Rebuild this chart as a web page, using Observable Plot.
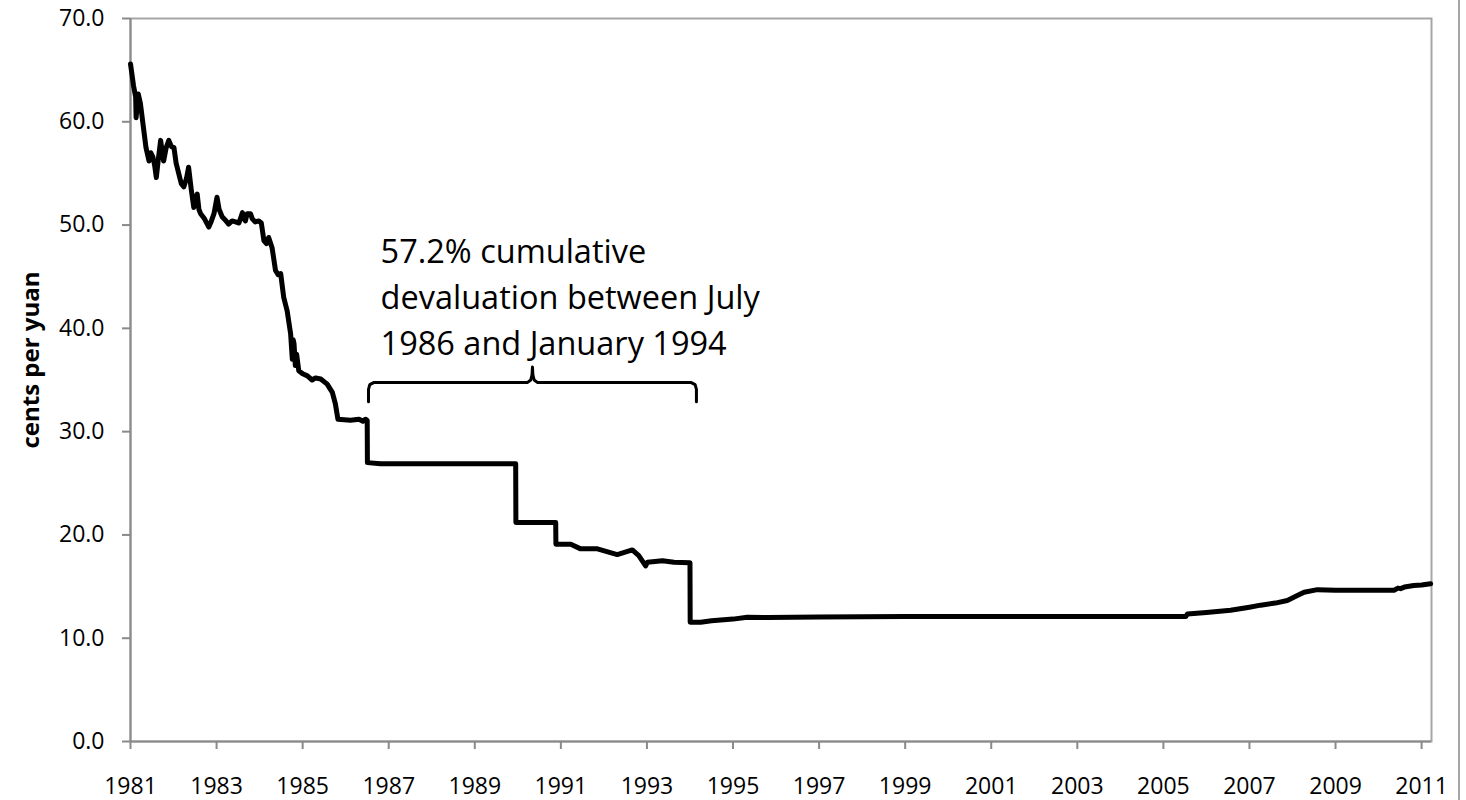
<!DOCTYPE html>
<html>
<head>
<meta charset="utf-8">
<script src="https://cdn.jsdelivr.net/npm/d3@7"></script>
<script src="https://cdn.jsdelivr.net/npm/@observablehq/plot@0.6"></script>
<style>
  html, body { margin: 0; padding: 0; background: #fff; }
  #wrap { display: inline-block; border-right: 2px solid #a6a6a6; line-height: 0; }
</style>
</head>
<body>
<div id="wrap"></div>
<script>
// Exchange rate, US cents per yuan
const years = [
  1981.00, 1981.07, 1981.12, 1981.13, 1981.18, 1981.23, 1981.29, 1981.36, 1981.43, 1981.47,
  1981.52, 1981.56, 1981.60, 1981.65, 1981.70, 1981.74, 1981.77, 1981.83, 1981.89, 1981.95,
  1982.01, 1982.06, 1982.12, 1982.18, 1982.24, 1982.30, 1982.35, 1982.41, 1982.47, 1982.51,
  1982.55, 1982.59, 1982.63, 1982.72, 1982.82, 1982.88, 1982.94, 1983.01, 1983.06, 1983.13,
  1983.20, 1983.28, 1983.36, 1983.44, 1983.52, 1983.60, 1983.64, 1983.67, 1983.71, 1983.79,
  1983.83, 1983.90, 1983.98, 1984.04, 1984.10, 1984.16, 1984.21, 1984.29, 1984.37, 1984.43,
  1984.49, 1984.56, 1984.64, 1984.72, 1984.76, 1984.78, 1984.80, 1984.83, 1984.86, 1984.91,
  1985.00, 1985.11, 1985.22, 1985.30, 1985.42, 1985.57, 1985.69, 1985.76, 1985.82, 1986.11,
  1986.31, 1986.40, 1986.46, 1986.50, 1986.505, 1986.81, 1989.95, 1989.955, 1990.88, 1990.885,
  1991.23, 1991.46, 1991.85, 1992.31, 1992.66, 1992.81, 1992.97, 1993.01, 1993.36, 1993.63,
  1994.00, 1994.005, 1994.25, 1994.50, 1995.00, 1995.33, 1995.80, 1997.00, 1998.00, 1999.00,
  2005.52, 2005.56, 2006.00, 2006.56, 2007.00, 2007.26, 2007.60, 2007.88, 2008.10, 2008.27,
  2008.58, 2009.00, 2010.36, 2010.45, 2010.51, 2010.60, 2010.82, 2011.00, 2011.21
];
const cents = [
  65.6, 63.5, 62.4, 60.4, 62.7, 61.8, 59.8, 57.5, 56.2, 57.0,
  56.6, 55.8, 54.6, 56.5, 58.2, 57.0, 56.2, 57.5, 58.2, 57.6,
  57.5, 56.0, 55.0, 54.0, 53.7, 54.5, 55.6, 53.5, 51.7, 52.5,
  53.0, 51.5, 51.1, 50.6, 49.8, 50.4, 51.1, 52.7, 51.5, 50.8,
  50.5, 50.1, 50.4, 50.3, 50.2, 51.2, 50.6, 50.4, 51.1, 51.1,
  50.6, 50.3, 50.4, 50.2, 48.5, 48.2, 48.8, 47.8, 45.6, 45.2,
  45.3, 43.0, 41.7, 39.5, 37.0, 38.9, 38.5, 36.4, 37.5, 35.9,
  35.6, 35.4, 35.0, 35.2, 35.1, 34.6, 33.8, 32.7, 31.2, 31.1,
  31.2, 31.0, 31.2, 31.1, 27.0, 26.9, 26.9, 21.2, 21.2, 19.1,
  19.1, 18.65, 18.65, 18.1, 18.55, 18.0, 17.0, 17.35, 17.5, 17.35,
  17.3, 11.55, 11.55, 11.7, 11.85, 12.03, 12.0, 12.05, 12.08, 12.1,
  12.1, 12.35, 12.5, 12.7, 13.0, 13.2, 13.4, 13.65, 14.1, 14.45,
  14.7, 14.65, 14.65, 14.85, 14.8, 14.95, 15.1, 15.15, 15.27
];

const xTicks = [1981, 1983, 1985, 1987, 1989, 1991, 1993, 1995, 1997, 1999, 2001, 2003, 2005, 2007, 2009, 2011];
const yTicks = [0, 10, 20, 30, 40, 50, 60, 70];
const yLabel = "cents per yuan";

// Annotation: brace spanning July 1986 – January 1994
const annotationLines = ["57.2% cumulative", "devaluation between July", "1986 and January 1994"];
const annotationAt = {year: 1986.81, cents: 49.5};
const braceYears = [1986.53, 1986.53, 1986.56, 1986.65, 1990.22, 1990.30, 1990.33, 1990.34, 1990.35, 1990.38, 1990.46, 1994.03, 1994.12, 1994.15, 1994.15];
const braceCents = [32.9, 34.1, 34.55, 34.75, 34.75, 35.0, 35.5, 36.25, 35.5, 35.0, 34.75, 34.75, 34.55, 34.1, 32.9];

const series = years.map((y, i) => ({year: y, cents: cents[i]}));
const brace = braceYears.map((y, i) => ({year: y, cents: braceCents[i]}));

const axisGray = "#8a8a8a";

const chart = Plot.plot({
  width: 1458,
  height: 800,
  marginLeft: 130,
  marginRight: 27,
  marginTop: 18,
  marginBottom: 59,
  style: {fontFamily: "Open Sans", fontSize: "23px", background: "#fff", color: "#000"},
  x: {domain: [1981, 2011.23], label: null},
  y: {domain: [0, 70], label: null},
  marks: [
    Plot.frame({stroke: "#a6a6a6", strokeWidth: 2}),
    Plot.axisX({ticks: xTicks, tickFormat: "d", tickSize: 8, tickPadding: 28, stroke: axisGray, strokeWidth: 2, fontSize: 23, label: null}),
    Plot.axisY({ticks: yTicks, tickFormat: d3.format(".1f"), tickSize: 8, tickPadding: 18, stroke: axisGray, strokeWidth: 2, fontSize: 23, label: null}),
    Plot.ruleY([0], {stroke: axisGray, strokeWidth: 2}),
    Plot.ruleX([1981], {stroke: axisGray, strokeWidth: 2}),
    Plot.line(series, {x: "year", y: "cents", stroke: "#000", strokeWidth: 5, strokeLinejoin: "round", strokeLinecap: "round"}),
    Plot.line(brace, {x: "year", y: "cents", stroke: "#000", strokeWidth: 3, strokeLinejoin: "round", curve: "linear"}),
    Plot.text([annotationLines.join("\n")], {
      x: annotationAt.year, y: annotationAt.cents, text: d => d,
      textAnchor: "start", lineAnchor: "top", lineHeight: 1.42,
      fontSize: 32.5, fill: "#000"
    }),
    Plot.text([yLabel], {
      frameAnchor: "left", text: d => d, rotate: -90, dx: -99, dy: -20,
      textAnchor: "middle", fontWeight: "bold", fontSize: 24, fill: "#000"
    })
  ]
});

document.getElementById("wrap").appendChild(chart);
</script>
</body>
</html>
